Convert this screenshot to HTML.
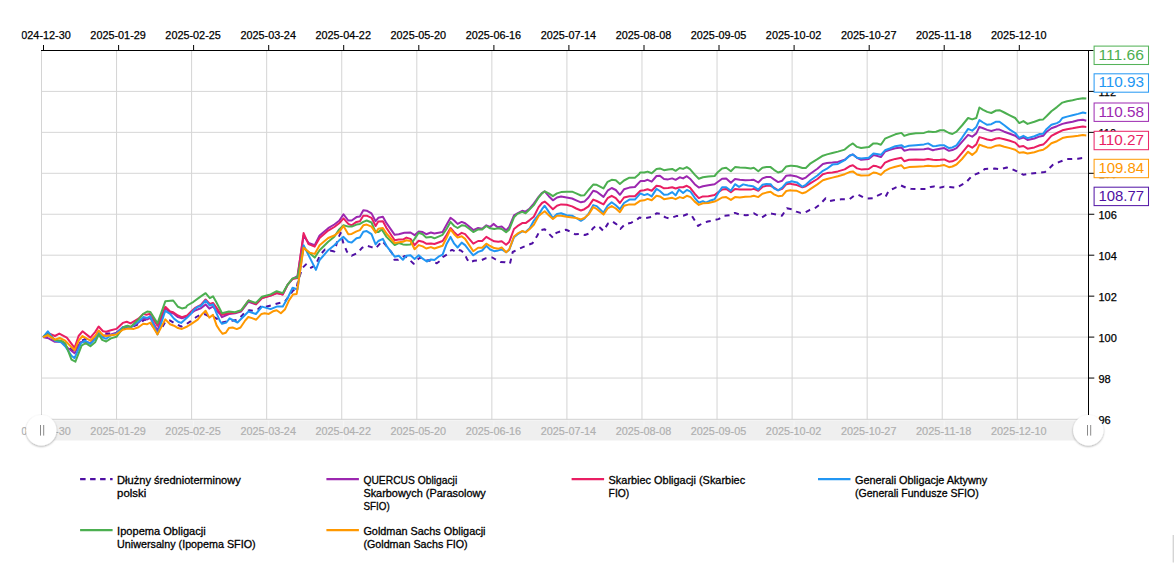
<!DOCTYPE html>
<html><head><meta charset="utf-8"><title>chart</title><style>html,body{margin:0;padding:0;background:#fff;}body{width:1174px;height:571px;overflow:hidden;position:relative;font-family:"Liberation Sans",sans-serif;}</style></head><body>
<svg width="1174" height="571" viewBox="0 0 1174 571" style="position:absolute;left:0;top:0">
<defs><clipPath id="cp"><rect x="21.5" y="0" width="1100" height="571"/></clipPath><clipPath id="plot"><rect x="41" y="50" width="1047.5" height="370"/></clipPath><filter id="sh" x="-30%" y="-30%" width="160%" height="170%"><feGaussianBlur in="SourceAlpha" stdDeviation="1.1"/><feOffset dx="0" dy="0.8"/><feComponentTransfer><feFuncA type="linear" slope="0.35"/></feComponentTransfer><feMerge><feMergeNode/><feMergeNode in="SourceGraphic"/></feMerge></filter></defs>
<g stroke="#d6d6d6" stroke-width="1"><line x1="41.50" y1="50.5" x2="41.50" y2="419.5" stroke="#d4d4d4"/><line x1="116.56" y1="50.5" x2="116.56" y2="419.5" stroke="#d4d4d4"/><line x1="191.62" y1="50.5" x2="191.62" y2="419.5" stroke="#d4d4d4"/><line x1="266.68" y1="50.5" x2="266.68" y2="419.5" stroke="#d4d4d4"/><line x1="341.74" y1="50.5" x2="341.74" y2="419.5" stroke="#d4d4d4"/><line x1="416.80" y1="50.5" x2="416.80" y2="419.5" stroke="#d4d4d4"/><line x1="491.86" y1="50.5" x2="491.86" y2="419.5" stroke="#d4d4d4"/><line x1="566.92" y1="50.5" x2="566.92" y2="419.5" stroke="#d4d4d4"/><line x1="641.98" y1="50.5" x2="641.98" y2="419.5" stroke="#d4d4d4"/><line x1="717.04" y1="50.5" x2="717.04" y2="419.5" stroke="#d4d4d4"/><line x1="792.10" y1="50.5" x2="792.10" y2="419.5" stroke="#d4d4d4"/><line x1="867.16" y1="50.5" x2="867.16" y2="419.5" stroke="#d4d4d4"/><line x1="942.22" y1="50.5" x2="942.22" y2="419.5" stroke="#d4d4d4"/><line x1="1017.28" y1="50.5" x2="1017.28" y2="419.5" stroke="#d4d4d4"/><line x1="41.5" y1="378.05" x2="1088.5" y2="378.05"/><line x1="41.5" y1="337.10" x2="1088.5" y2="337.10"/><line x1="41.5" y1="296.15" x2="1088.5" y2="296.15"/><line x1="41.5" y1="255.20" x2="1088.5" y2="255.20"/><line x1="41.5" y1="214.25" x2="1088.5" y2="214.25"/><line x1="41.5" y1="173.30" x2="1088.5" y2="173.30"/><line x1="41.5" y1="132.35" x2="1088.5" y2="132.35"/><line x1="41.5" y1="91.40" x2="1088.5" y2="91.40"/></g>
<rect x="41.5" y="420.3" width="1047" height="20.2" fill="#efefef"/><line x1="41.5" y1="419.3" x2="1088.5" y2="419.3" stroke="#d0d0d0" stroke-width="1"/>
<g stroke="#fff" stroke-opacity="0.45" stroke-width="1"><line x1="118.6" y1="420.8" x2="118.6" y2="440.5"/><line x1="193.6" y1="420.8" x2="193.6" y2="440.5"/><line x1="268.7" y1="420.8" x2="268.7" y2="440.5"/><line x1="343.7" y1="420.8" x2="343.7" y2="440.5"/><line x1="418.8" y1="420.8" x2="418.8" y2="440.5"/><line x1="493.9" y1="420.8" x2="493.9" y2="440.5"/><line x1="568.9" y1="420.8" x2="568.9" y2="440.5"/><line x1="644.0" y1="420.8" x2="644.0" y2="440.5"/><line x1="719.0" y1="420.8" x2="719.0" y2="440.5"/><line x1="794.1" y1="420.8" x2="794.1" y2="440.5"/><line x1="869.2" y1="420.8" x2="869.2" y2="440.5"/><line x1="944.2" y1="420.8" x2="944.2" y2="440.5"/><line x1="1019.3" y1="420.8" x2="1019.3" y2="440.5"/></g>
<g clip-path="url(#cp)" font-family="Liberation Sans, sans-serif" font-size="11" fill="#b0b0b0" stroke="#b0b0b0" stroke-width="0.2" text-anchor="middle"><text x="43.0" y="434.8" textLength="55.5" lengthAdjust="spacingAndGlyphs">2024-12-30</text><text x="118.1" y="434.8" textLength="55.5" lengthAdjust="spacingAndGlyphs">2025-01-29</text><text x="193.1" y="434.8" textLength="55.5" lengthAdjust="spacingAndGlyphs">2025-02-25</text><text x="268.2" y="434.8" textLength="55.5" lengthAdjust="spacingAndGlyphs">2025-03-24</text><text x="343.2" y="434.8" textLength="55.5" lengthAdjust="spacingAndGlyphs">2025-04-22</text><text x="418.3" y="434.8" textLength="55.5" lengthAdjust="spacingAndGlyphs">2025-05-20</text><text x="493.4" y="434.8" textLength="55.5" lengthAdjust="spacingAndGlyphs">2025-06-16</text><text x="568.4" y="434.8" textLength="55.5" lengthAdjust="spacingAndGlyphs">2025-07-14</text><text x="643.5" y="434.8" textLength="55.5" lengthAdjust="spacingAndGlyphs">2025-08-08</text><text x="718.5" y="434.8" textLength="55.5" lengthAdjust="spacingAndGlyphs">2025-09-05</text><text x="793.6" y="434.8" textLength="55.5" lengthAdjust="spacingAndGlyphs">2025-10-02</text><text x="868.7" y="434.8" textLength="55.5" lengthAdjust="spacingAndGlyphs">2025-10-27</text><text x="943.7" y="434.8" textLength="55.5" lengthAdjust="spacingAndGlyphs">2025-11-18</text><text x="1018.8" y="434.8" textLength="55.5" lengthAdjust="spacingAndGlyphs">2025-12-10</text></g>
<g clip-path="url(#cp)" font-family="Liberation Sans, sans-serif" font-size="11" fill="#000" stroke="#000" stroke-width="0.25" text-anchor="middle"><text x="43.0" y="38.8" textLength="55.5" lengthAdjust="spacingAndGlyphs">2024-12-30</text><text x="118.1" y="38.8" textLength="55.5" lengthAdjust="spacingAndGlyphs">2025-01-29</text><text x="193.1" y="38.8" textLength="55.5" lengthAdjust="spacingAndGlyphs">2025-02-25</text><text x="268.2" y="38.8" textLength="55.5" lengthAdjust="spacingAndGlyphs">2025-03-24</text><text x="343.2" y="38.8" textLength="55.5" lengthAdjust="spacingAndGlyphs">2025-04-22</text><text x="418.3" y="38.8" textLength="55.5" lengthAdjust="spacingAndGlyphs">2025-05-20</text><text x="493.4" y="38.8" textLength="55.5" lengthAdjust="spacingAndGlyphs">2025-06-16</text><text x="568.4" y="38.8" textLength="55.5" lengthAdjust="spacingAndGlyphs">2025-07-14</text><text x="643.5" y="38.8" textLength="55.5" lengthAdjust="spacingAndGlyphs">2025-08-08</text><text x="718.5" y="38.8" textLength="55.5" lengthAdjust="spacingAndGlyphs">2025-09-05</text><text x="793.6" y="38.8" textLength="55.5" lengthAdjust="spacingAndGlyphs">2025-10-02</text><text x="868.7" y="38.8" textLength="55.5" lengthAdjust="spacingAndGlyphs">2025-10-27</text><text x="943.7" y="38.8" textLength="55.5" lengthAdjust="spacingAndGlyphs">2025-11-18</text><text x="1018.8" y="38.8" textLength="55.5" lengthAdjust="spacingAndGlyphs">2025-12-10</text></g>
<polyline clip-path="url(#plot)" points="43.1,337.1 48.6,337.6 54.9,340.7 61.2,340.7 67.5,346.2 74.6,351.8 80.2,341.5 84.9,339.1 90.4,341.8 95.1,337.6 98.6,331.3 103.8,333.6 110.9,333.6 116.4,332.8 122.8,328.1 130.6,327.3 138.5,324.2 144.8,319.4 149.6,321.8 157.5,332.7 162.3,327.2 165.7,321.1 169.8,320.4 174.5,323.2 181.3,326.6 186.8,323.8 190.9,321.1 196.3,317.0 201.1,314.3 205.2,314.3 208.6,316.1 214.1,317.0 222.2,322.5 229.0,321.1 231.8,320.7 237.2,319.8 241.3,316.3 245.4,311.6 249.5,310.2 253.6,310.9 257.7,309.5 261.8,305.7 265.8,306.8 271.3,305.4 275.4,304.1 280.8,302.7 284.9,301.6 289.0,295.9 293.1,290.5 296.5,289.1 297.5,283.3 302.1,268.3 306.0,264.4 310.0,268.3 315.5,265.2 320.2,254.9 325.0,249.4 328.9,250.2 334.4,251.5 338.4,237.6 340.7,232.9 343.1,242.3 347.0,251.8 351.8,255.7 358.1,252.6 362.0,247.8 366.0,245.5 371.5,247.1 375.4,248.6 382.4,241.0 390.6,251.2 392.0,253.1 394.5,259.8 398.3,259.8 401.7,257.4 405.0,255.9 408.9,259.3 413.7,263.7 418.5,258.8 420.5,257.4 424.3,260.8 428.2,260.3 432.5,261.7 436.8,263.2 440.2,260.8 443.1,256.9 447.0,254.5 449.6,251.1 452.1,249.9 455.6,251.6 458.0,249.7 460.9,250.5 464.3,253.3 466.7,258.4 469.1,262.4 474.0,260.8 481.4,260.2 486.1,258.2 492.3,257.5 495.7,259.5 500.4,262.0 505.2,262.2 510.0,263.6 512.7,252.0 519.5,248.6 526.3,245.6 532.5,243.2 537.2,235.7 540.0,230.2 544.7,229.3 548.1,232.9 552.9,237.7 556.3,232.9 561.8,230.9 565.9,229.8 570.6,231.6 575.4,234.3 580.2,233.9 584.9,235.0 589.0,233.6 593.1,228.2 596.5,225.4 599.9,227.5 603.3,230.9 608.1,223.4 612.2,221.4 616.3,224.1 620.4,228.9 625.1,224.1 631.3,222.7 636.7,220.0 639.5,217.4 642.9,218.4 651.8,217.0 656.6,213.3 660.7,213.9 665.4,217.4 669.5,218.4 676.3,216.1 683.2,215.7 687.9,213.9 692.0,216.1 698.1,225.9 702.2,223.4 707.7,221.5 711.8,220.7 718.6,219.1 724.0,215.7 729.5,215.3 734.9,212.9 739.0,214.3 745.8,215.3 750.6,214.7 754.0,213.3 758.1,215.7 761.5,217.7 767.6,213.9 771.7,213.6 776.5,214.7 782.0,215.7 785.5,210.2 786.8,208.2 792.9,209.5 796.4,211.6 800.4,212.9 805.2,212.5 810.0,209.8 814.8,208.4 819.5,204.8 825.7,198.3 829.7,201.1 835.9,199.7 841.3,199.3 849.5,199.3 854.3,195.6 858.4,194.8 863.1,197.3 867.2,198.6 872.7,198.3 876.8,195.9 881.5,193.9 885.6,196.6 889.0,190.4 893.1,188.8 900.6,185.3 906.1,187.7 910.8,188.8 919.0,189.1 927.2,189.1 930.6,187.0 934.0,186.4 938.1,188.0 944.2,186.6 956.4,187.7 966.0,182.5 972.1,175.7 979.6,172.7 985.0,168.9 994.6,168.6 1000.0,169.3 1006.8,167.5 1012.3,169.3 1016.4,171.1 1023.2,174.7 1031.4,173.4 1045.0,172.0 1049.6,168.0 1052.7,165.0 1059.4,161.9 1066.8,159.1 1071.7,159.1 1077.8,158.8 1080.9,158.2 1086.4,157.6" fill="none" stroke="#4e0fa3" stroke-width="2" stroke-linejoin="round" stroke-linecap="butt" stroke-dasharray="5,5"/>
<polyline clip-path="url(#plot)" points="43.1,337.1 48.6,338.4 54.9,341.8 61.2,341.5 67.5,347.8 74.6,353.3 80.2,342.3 84.9,341.5 90.4,343.1 95.1,338.4 98.6,332.1 103.0,336.0 106.2,335.2 110.9,334.4 116.4,332.8 122.8,327.3 127.5,326.1 130.6,327.3 138.5,322.6 143.3,318.6 147.2,319.4 150.4,317.9 157.5,330.5 165.3,308.4 170.1,312.3 174.0,313.9 178.0,317.1 181.9,318.3 187.2,316.5 191.4,312.8 195.6,310.2 200.9,308.3 205.6,304.4 209.3,308.6 213.0,306.5 216.1,310.2 220.0,313.9 222.0,317.2 228.9,314.0 235.0,313.2 241.1,311.5 248.5,301.7 255.9,304.2 262.0,298.0 270.6,295.6 276.7,293.1 282.8,294.4 287.7,284.6 292.6,278.9 297.5,276.0 303.6,235.5 308.5,242.9 314.7,245.3 319.6,235.5 328.2,228.2 334.3,224.5 339.2,220.8 343.5,214.3 348.3,220.5 351.7,220.5 356.5,217.1 359.9,216.4 363.3,210.2 366.7,210.7 371.5,213.4 375.6,221.2 378.3,217.8 382.9,216.7 386.5,223.2 394.7,234.8 398.8,234.2 404.3,232.8 410.5,232.5 414.6,235.2 418.7,231.4 422.7,232.1 426.2,234.2 430.9,232.5 434.4,233.5 442.6,232.1 446.7,224.6 450.5,217.8 454.2,220.5 457.6,223.9 461.7,221.9 465.1,223.2 469.2,226.6 473.3,230.1 478.1,228.0 482.2,228.7 486.3,225.3 490.1,226.9 493.5,223.9 497.6,227.2 501.7,226.6 506.1,230.3 509.2,226.9 514.0,215.3 517.4,213.3 522.2,210.8 525.6,211.6 529.7,208.5 533.8,203.7 538.6,196.9 542.0,193.0 544.7,191.4 548.8,196.2 552.9,200.3 557.0,197.5 561.1,196.6 566.6,197.5 572.1,198.5 576.2,200.3 580.9,202.3 584.4,201.6 588.5,197.5 593.2,190.7 596.7,191.7 603.5,196.9 607.6,190.7 611.7,188.0 615.8,190.0 619.9,194.8 624.0,189.3 629.4,187.6 634.9,187.0 640.4,181.1 644.2,181.1 647.6,179.8 651.7,181.7 656.5,176.0 659.9,175.7 664.0,179.0 668.1,179.4 672.2,178.4 675.6,179.8 679.7,177.3 683.1,178.4 686.8,176.2 690.0,178.7 694.7,184.2 698.8,187.6 702.9,186.2 708.4,185.2 714.6,184.2 718.0,181.7 722.1,178.7 726.2,178.4 730.9,182.8 735.0,179.0 739.8,179.8 745.3,180.3 750.8,180.1 753.8,179.8 758.3,182.5 762.4,178.4 766.5,177.0 770.6,177.0 774.0,179.4 778.1,182.1 782.2,180.7 786.3,175.7 790.4,175.3 791.5,175.5 796.9,176.6 802.4,179.0 805.8,177.6 810.6,173.5 817.4,168.7 822.9,163.9 827.0,163.0 832.4,162.6 837.9,161.9 844.7,159.8 849.5,155.7 852.9,154.4 857.0,157.8 861.1,159.8 868.7,158.9 873.4,155.1 876.8,155.7 880.9,157.1 885.0,151.6 889.8,149.9 895.3,148.2 901.4,147.5 904.2,150.7 909.0,149.6 915.8,149.6 924.0,149.3 928.1,148.5 932.9,150.3 936.0,149.4 940.1,148.7 944.2,148.1 949.0,150.8 952.4,150.1 956.5,148.1 962.0,141.9 968.1,134.8 972.2,136.7 976.3,133.4 979.4,126.9 983.1,128.3 987.2,129.9 991.3,131.0 996.1,129.6 999.5,129.6 1004.3,131.7 1009.8,133.7 1015.2,135.8 1019.3,138.9 1023.4,137.5 1027.5,139.9 1034.4,138.5 1039.8,136.4 1043.2,135.8 1046.7,131.7 1051.4,128.3 1056.9,126.2 1062.4,123.9 1067.1,122.8 1072.6,121.7 1078.1,120.3 1082.9,119.8 1086.3,120.7" fill="none" stroke="#9c27b0" stroke-width="2" stroke-linejoin="round" stroke-linecap="butt"/>
<polyline clip-path="url(#plot)" points="43.1,337.1 47.8,332.8 54.9,336.0 59.3,333.6 66.8,337.6 74.6,347.8 78.6,336.0 82.5,331.3 90.4,337.6 95.1,332.1 98.6,326.5 103.0,331.3 106.2,331.7 110.9,330.2 116.4,328.9 122.8,322.9 126.7,321.8 130.6,323.4 138.5,318.6 143.3,313.9 146.4,314.7 149.6,313.9 157.5,325.7 165.3,306.8 170.1,311.5 173.2,312.3 178.0,315.5 181.9,317.1 187.2,315.5 191.4,311.3 195.6,307.6 200.9,305.0 205.6,299.5 209.8,303.9 213.0,302.9 216.1,307.1 220.0,312.8 222.0,314.7 228.9,313.2 235.0,312.7 241.1,310.8 248.5,300.5 255.9,304.2 262.0,298.0 270.6,295.6 276.7,293.1 282.8,294.4 287.7,284.6 292.6,278.9 297.5,277.9 303.6,233.1 308.5,244.1 314.7,246.6 319.6,238.0 328.2,230.6 334.3,227.0 339.2,223.3 343.5,218.4 348.3,223.9 351.7,225.3 356.5,221.9 359.9,221.2 363.3,215.7 366.7,215.7 371.5,217.8 375.6,226.0 378.3,221.6 382.9,221.2 386.5,228.0 394.7,240.3 398.8,239.6 402.9,239.6 406.4,237.6 410.5,238.9 414.6,245.1 418.7,240.7 422.7,241.7 426.2,243.7 430.9,243.4 434.4,244.0 442.6,241.0 446.7,234.8 450.5,228.0 454.2,232.1 457.6,235.5 461.7,232.8 465.1,234.2 469.2,238.9 473.3,243.7 478.1,241.0 482.2,241.0 486.3,236.9 490.1,239.2 494.2,241.3 498.3,241.7 501.7,241.3 506.1,244.7 509.2,241.9 514.0,229.0 517.4,226.2 522.2,223.1 525.6,223.1 529.7,220.1 533.8,216.7 538.6,207.1 542.0,203.0 544.7,201.6 548.8,205.1 552.9,209.2 557.0,205.7 561.1,204.4 566.6,204.8 572.1,206.4 576.2,208.5 580.9,210.5 584.4,209.2 588.5,206.4 593.2,199.6 596.7,201.0 603.5,204.4 607.6,198.2 611.7,195.8 615.8,198.2 619.9,203.0 624.0,197.5 629.4,196.2 634.9,196.2 640.4,190.7 644.2,190.3 647.6,189.3 651.7,190.7 656.5,185.8 659.9,186.2 664.0,188.3 668.1,188.0 672.2,187.2 675.6,188.5 679.7,187.2 683.1,187.2 686.8,185.8 690.0,187.6 694.7,193.7 698.8,198.1 702.9,196.4 708.4,196.2 714.6,195.1 718.0,192.3 722.1,189.6 726.2,188.9 730.9,192.3 735.0,188.9 739.8,189.6 745.3,189.6 750.8,189.6 753.8,188.9 758.3,190.7 762.4,186.9 766.5,185.8 770.6,185.8 774.0,187.6 778.1,190.3 782.2,188.9 786.3,184.2 790.4,183.5 791.5,184.0 796.9,185.1 802.4,187.2 805.8,186.2 810.6,183.1 817.4,179.0 822.9,174.2 827.0,173.1 832.4,172.5 837.9,171.4 844.7,169.4 849.5,166.3 852.9,165.3 857.0,168.4 861.1,169.4 868.7,169.0 873.4,165.7 876.8,166.3 880.9,168.0 885.0,162.6 889.8,160.5 895.3,158.9 901.4,157.8 904.2,161.2 909.0,159.8 915.8,159.4 924.0,159.8 928.1,158.9 932.9,159.8 936.0,159.9 940.1,159.7 944.2,159.4 949.0,161.7 952.4,161.3 956.5,159.4 962.0,152.8 968.1,145.3 972.2,147.7 976.3,144.4 979.4,137.1 983.1,138.1 987.2,139.5 991.3,140.3 996.1,138.5 999.5,138.1 1004.3,139.2 1009.8,140.8 1015.2,142.6 1019.3,146.7 1023.4,146.0 1027.5,148.7 1034.4,147.4 1039.8,145.3 1043.2,144.6 1046.7,141.2 1051.4,135.8 1056.9,133.0 1062.4,130.3 1067.1,129.2 1072.6,128.3 1078.1,127.2 1082.9,126.6 1086.3,126.9" fill="none" stroke="#e91e63" stroke-width="2" stroke-linejoin="round" stroke-linecap="butt"/>
<polyline clip-path="url(#plot)" points="43.1,337.1 47.8,331.3 54.9,340.7 61.2,342.3 65.2,346.2 71.5,355.7 74.6,358.1 81.0,343.1 84.9,340.7 90.4,343.9 95.1,339.1 98.6,331.3 103.0,337.6 106.2,338.7 110.9,335.2 116.4,333.6 122.8,327.3 127.5,326.5 130.6,327.3 138.5,321.8 143.3,317.1 147.2,317.9 150.4,316.3 157.5,334.4 165.3,310.8 170.1,313.9 174.0,318.6 178.0,321.8 181.1,322.9 187.2,317.6 191.4,313.4 193.5,310.2 197.7,306.8 200.9,306.0 205.6,300.5 209.8,305.5 213.0,304.4 216.1,312.3 220.0,321.2 222.0,323.8 226.4,322.5 229.6,318.4 237.5,322.5 248.5,311.5 255.9,314.0 262.0,306.6 270.6,309.1 276.7,306.6 282.8,306.6 287.7,298.0 292.6,287.7 297.5,289.5 303.6,245.3 309.8,257.6 315.9,269.9 319.6,260.0 328.2,250.2 334.3,245.3 339.2,240.4 343.5,236.9 348.3,241.7 351.7,242.6 356.5,238.3 359.9,237.6 363.3,231.7 366.7,231.1 371.5,234.2 375.6,244.4 378.3,241.0 382.9,238.9 386.5,245.8 394.7,256.7 398.8,255.7 402.9,259.8 406.4,255.7 410.5,255.3 414.6,259.0 418.7,255.3 422.7,258.7 426.8,261.5 430.9,259.4 434.4,260.1 438.5,256.7 442.6,254.6 446.7,243.7 450.5,236.9 454.2,243.7 457.6,247.5 461.7,242.6 465.1,245.1 469.2,250.5 473.3,255.3 478.1,251.9 482.2,250.5 486.3,245.8 490.1,249.5 494.2,251.2 498.3,250.4 501.7,249.5 506.1,252.2 509.2,249.9 514.0,237.2 517.4,234.4 522.2,231.3 525.6,232.1 529.7,228.3 533.8,220.8 538.6,214.6 542.0,209.2 544.7,205.7 548.8,211.9 552.9,218.0 557.0,213.9 561.1,213.3 566.6,215.3 572.1,215.7 576.2,218.0 580.9,220.8 584.4,218.7 588.5,213.9 593.2,205.1 596.7,206.1 603.5,212.6 607.6,205.7 611.7,202.3 615.8,205.3 619.9,209.2 624.0,203.0 629.4,199.6 634.9,199.6 640.4,193.4 644.2,195.1 647.6,194.0 651.7,196.4 656.5,188.9 659.9,191.0 664.0,194.8 668.1,194.4 672.2,192.1 675.6,195.4 679.0,189.6 683.1,193.0 686.8,189.9 690.6,191.7 694.7,197.8 698.8,202.6 702.9,201.2 705.7,202.6 709.8,200.8 714.6,199.2 718.0,193.4 722.1,187.2 726.2,187.2 730.9,190.7 735.0,184.2 739.1,186.9 743.2,184.4 748.0,185.5 752.8,186.2 758.3,189.6 762.4,184.8 766.5,183.9 770.6,184.2 774.0,188.3 778.1,190.3 782.2,187.6 786.3,182.8 790.4,181.7 791.5,181.3 796.9,182.4 802.4,186.7 805.8,184.8 810.6,180.3 817.4,175.5 822.9,170.8 827.0,168.7 832.4,164.6 837.9,163.9 844.7,160.2 849.5,155.7 852.9,154.4 857.0,157.8 861.1,158.5 868.7,157.8 873.4,153.4 876.8,154.0 880.9,154.8 885.0,150.3 889.8,148.5 895.3,146.2 901.4,145.2 904.2,147.1 909.0,145.8 915.8,145.2 924.0,144.4 928.1,143.4 932.9,146.2 936.0,146.0 940.1,145.3 944.2,145.3 949.0,148.1 952.4,147.4 956.5,145.3 962.0,137.8 968.1,128.9 972.2,130.7 976.3,126.9 979.4,120.1 983.1,122.5 987.2,124.8 991.3,124.2 996.1,121.7 999.5,121.7 1004.3,125.2 1009.8,129.6 1015.2,133.0 1019.3,137.8 1023.4,135.8 1027.5,138.1 1034.4,136.2 1039.8,134.0 1043.2,133.7 1046.7,128.9 1051.4,124.8 1056.9,123.1 1059.6,121.7 1062.4,118.0 1067.1,116.6 1072.6,115.3 1078.1,113.9 1082.9,112.5 1086.3,113.2" fill="none" stroke="#2196f3" stroke-width="2" stroke-linejoin="round" stroke-linecap="butt"/>
<polyline clip-path="url(#plot)" points="43.1,337.1 47.8,334.4 54.9,339.9 61.2,340.7 65.2,343.1 71.5,359.7 75.4,361.7 81.7,345.5 85.7,343.1 90.4,346.2 95.1,342.3 98.8,334.4 102.2,339.9 106.2,341.5 110.9,338.4 116.4,336.8 123.5,327.3 127.5,325.7 130.6,327.0 138.5,319.4 143.3,313.9 147.2,311.5 150.4,312.0 157.5,323.4 165.3,301.3 173.2,300.5 178.0,306.8 181.9,308.4 185.8,307.6 187.2,305.5 193.5,301.8 199.8,297.1 205.6,293.2 209.8,298.1 213.0,296.3 216.1,301.8 220.0,309.2 222.0,313.2 228.9,311.5 235.0,312.3 241.1,310.3 248.5,300.5 255.9,302.9 262.0,296.8 270.6,294.4 276.7,291.2 282.8,293.1 287.7,284.6 292.6,278.4 297.5,277.2 303.6,247.8 314.7,257.6 319.6,250.2 328.2,241.7 334.3,236.8 339.2,229.4 343.5,225.3 348.3,226.6 351.7,226.6 356.5,224.6 359.9,223.9 363.3,221.9 366.7,220.5 371.5,222.5 375.6,232.1 378.3,232.1 381.8,229.4 386.5,236.9 394.7,245.1 398.8,243.0 402.9,244.4 406.4,244.8 410.5,244.4 414.6,238.9 418.7,232.8 422.7,234.2 426.2,237.6 430.9,236.9 434.4,238.3 442.6,234.8 446.7,228.7 450.5,221.9 454.2,226.0 457.6,228.0 461.7,225.3 465.1,225.7 469.2,228.7 473.3,232.1 478.1,229.4 482.2,229.4 486.3,226.0 490.1,228.3 494.2,229.0 498.3,228.3 501.7,229.0 506.1,232.1 509.2,229.6 514.0,217.3 517.4,213.9 522.2,211.9 525.6,213.3 529.7,209.2 533.8,205.1 538.6,197.5 542.0,193.4 544.7,191.4 548.8,193.4 552.9,196.2 557.0,193.4 561.1,192.1 566.6,191.7 572.1,191.7 576.2,193.4 580.9,195.5 584.4,195.2 588.5,190.0 593.2,184.6 596.7,184.8 603.5,188.4 607.6,181.8 611.7,179.8 615.8,180.2 619.9,183.9 624.0,180.5 629.4,177.7 634.9,177.7 639.0,174.3 640.1,172.5 644.2,172.5 647.6,171.6 651.7,173.2 656.5,169.1 659.9,168.4 664.0,170.2 668.1,169.4 672.2,168.9 675.6,170.8 679.7,168.0 683.1,168.9 686.8,167.1 690.0,169.1 694.7,174.6 698.8,178.7 702.9,177.3 708.4,176.6 714.6,176.0 718.0,171.9 722.1,168.4 726.2,167.8 730.9,171.2 735.0,167.1 739.8,167.5 745.3,167.8 750.8,168.4 753.8,167.8 758.3,171.2 762.4,167.8 766.5,167.1 770.6,167.1 774.0,169.8 778.1,172.5 782.2,171.2 786.3,166.4 790.4,165.7 791.5,165.7 796.9,166.3 802.4,168.0 805.8,168.0 810.6,163.3 817.4,159.2 822.9,155.7 827.0,154.4 832.4,153.0 837.9,151.6 844.7,149.6 849.5,145.5 852.9,143.4 857.0,146.9 861.1,148.0 868.7,147.1 873.4,143.4 876.8,143.4 880.9,144.8 885.0,138.7 889.8,136.6 895.3,134.3 901.4,132.9 904.2,135.9 909.0,134.3 915.8,133.2 924.0,132.9 928.1,131.6 932.9,132.1 936.0,131.7 940.1,130.3 944.2,130.3 949.0,133.0 952.4,134.0 956.5,131.7 962.0,125.5 968.1,118.0 972.2,119.4 976.3,118.0 979.4,107.5 983.1,109.8 987.2,111.9 991.3,113.0 996.1,110.5 999.5,110.2 1004.3,112.5 1009.8,115.3 1015.2,118.0 1019.3,123.1 1023.4,121.1 1027.5,123.9 1034.4,121.7 1039.8,119.8 1043.2,119.4 1046.7,116.0 1051.4,111.2 1056.9,107.1 1062.4,102.6 1067.1,101.2 1072.6,100.2 1078.1,98.9 1082.9,98.2 1086.3,98.5" fill="none" stroke="#4caf50" stroke-width="2" stroke-linejoin="round" stroke-linecap="butt"/>
<polyline clip-path="url(#plot)" points="43.1,337.1 47.8,335.2 54.9,339.6 59.7,338.0 65.2,340.7 74.6,350.2 78.6,340.7 82.5,336.0 90.4,340.7 95.1,336.0 98.6,330.5 103.0,335.2 106.2,336.0 110.9,335.2 116.4,334.4 122.8,329.7 127.5,328.6 133.8,328.9 138.5,327.3 143.3,323.8 147.2,324.2 150.4,322.6 157.5,334.4 165.3,319.4 170.1,324.2 174.0,325.7 178.0,328.1 181.9,328.9 187.2,326.5 191.4,323.9 197.7,319.7 201.9,314.4 205.6,310.7 209.3,317.6 213.0,314.9 216.6,325.4 220.0,330.7 222.6,333.8 225.8,332.8 228.9,328.1 232.6,327.5 236.8,329.1 240.5,327.5 244.7,321.2 248.3,317.0 252.0,318.1 256.2,319.7 261.5,313.9 264.6,313.2 268.8,313.9 273.0,311.3 276.7,310.2 280.9,313.2 285.1,309.2 288.8,300.8 293.0,294.5 296.7,293.9 303.6,247.8 309.8,252.7 314.7,253.9 319.6,245.3 328.2,238.0 334.3,235.5 339.2,231.9 343.5,226.0 348.3,234.2 351.7,233.9 356.5,231.4 359.9,230.1 363.3,225.3 366.7,224.6 371.5,226.6 375.6,232.8 378.3,228.7 382.9,228.0 386.5,233.5 394.7,243.0 398.8,242.3 402.9,241.7 406.4,240.3 410.5,241.0 414.6,249.2 418.7,245.1 422.7,246.4 426.2,248.5 430.9,247.1 434.4,248.5 442.6,245.8 446.7,237.6 450.5,229.4 454.2,234.2 457.6,237.6 461.7,236.2 465.1,238.9 469.2,245.1 473.3,251.2 478.1,247.8 482.2,247.8 486.3,243.7 490.1,246.0 494.2,248.1 498.3,248.8 501.7,247.4 506.1,252.2 509.2,249.5 514.0,236.5 517.4,233.7 522.2,231.0 525.6,232.4 529.7,229.0 533.8,224.9 538.6,216.0 542.0,213.3 544.7,211.2 548.8,215.3 552.9,219.0 557.0,215.7 561.1,215.7 566.6,216.7 572.1,217.6 576.2,218.0 580.9,219.4 584.4,218.0 588.5,214.6 593.2,207.1 596.7,208.9 603.5,214.6 607.6,208.5 611.7,206.1 615.8,208.5 619.9,212.2 624.0,205.7 629.4,204.4 634.9,204.4 640.4,200.7 644.2,200.3 647.6,198.9 651.7,200.3 656.5,195.8 659.9,196.4 664.0,199.2 668.1,198.5 672.2,197.8 675.6,199.2 679.7,197.1 683.1,198.1 686.8,195.8 690.6,197.1 694.7,201.6 698.8,204.9 702.9,203.3 708.4,203.0 714.6,201.6 718.0,199.9 722.1,197.5 726.2,197.1 730.9,199.9 735.0,197.1 739.8,197.5 745.3,196.7 750.8,196.4 753.8,195.8 758.3,197.1 762.4,193.7 766.5,192.6 770.6,191.7 774.0,194.4 778.1,196.2 782.2,195.8 786.3,191.0 790.4,190.3 791.5,190.6 796.9,190.8 802.4,193.3 805.8,192.2 810.6,188.9 817.4,184.4 822.9,180.3 827.0,179.0 832.4,177.6 837.9,176.2 844.7,174.2 849.5,172.1 852.9,171.4 857.0,174.5 861.1,175.5 868.7,175.3 873.4,172.5 876.8,173.1 880.9,174.9 885.0,170.8 889.8,168.4 895.3,166.7 901.4,165.3 904.2,168.4 909.0,167.1 915.8,166.7 924.0,166.3 928.1,165.7 932.9,166.3 936.0,166.2 940.1,165.8 944.2,165.1 949.0,167.2 952.4,166.5 956.5,164.5 962.0,159.0 968.1,151.7 972.2,154.9 976.3,151.5 979.4,144.6 983.1,146.0 987.2,147.4 991.3,147.7 996.1,145.7 999.5,145.3 1004.3,146.7 1009.8,148.1 1015.2,149.8 1019.3,152.8 1023.4,152.2 1027.5,153.5 1034.4,152.2 1039.8,150.4 1043.2,149.8 1046.7,147.4 1051.4,143.3 1056.9,141.2 1062.4,138.1 1067.1,137.1 1072.6,136.4 1078.1,135.8 1082.9,135.1 1086.3,135.4" fill="none" stroke="#ff9800" stroke-width="2" stroke-linejoin="round" stroke-linecap="butt"/>
<g stroke="#000" stroke-width="1"><line x1="41" y1="50.5" x2="1093.5" y2="50.5"/><line x1="43.5" y1="45" x2="43.5" y2="50.5"/><line x1="118.6" y1="45" x2="118.6" y2="50.5"/><line x1="193.6" y1="45" x2="193.6" y2="50.5"/><line x1="268.7" y1="45" x2="268.7" y2="50.5"/><line x1="343.7" y1="45" x2="343.7" y2="50.5"/><line x1="418.8" y1="45" x2="418.8" y2="50.5"/><line x1="493.9" y1="45" x2="493.9" y2="50.5"/><line x1="568.9" y1="45" x2="568.9" y2="50.5"/><line x1="644.0" y1="45" x2="644.0" y2="50.5"/><line x1="719.0" y1="45" x2="719.0" y2="50.5"/><line x1="794.1" y1="45" x2="794.1" y2="50.5"/><line x1="869.2" y1="45" x2="869.2" y2="50.5"/><line x1="944.2" y1="45" x2="944.2" y2="50.5"/><line x1="1019.3" y1="45" x2="1019.3" y2="50.5"/><line x1="1088.5" y1="50" x2="1088.5" y2="420"/><line x1="1088.5" y1="419.0" x2="1094.3" y2="419.0"/><line x1="1088.5" y1="378.05" x2="1094.3" y2="378.05"/><line x1="1088.5" y1="337.1" x2="1094.3" y2="337.1"/><line x1="1088.5" y1="296.15" x2="1094.3" y2="296.15"/><line x1="1088.5" y1="255.2" x2="1094.3" y2="255.2"/><line x1="1088.5" y1="214.25" x2="1094.3" y2="214.25"/><line x1="1088.5" y1="173.3" x2="1094.3" y2="173.3"/><line x1="1088.5" y1="132.35" x2="1094.3" y2="132.35"/><line x1="1088.5" y1="91.4" x2="1094.3" y2="91.4"/></g>
<g font-family="Liberation Sans, sans-serif" font-size="11" fill="#000" stroke="#000" stroke-width="0.25"><text x="1098.5" y="423.6">96</text><text x="1098.5" y="382.7">98</text><text x="1098.5" y="341.7">100</text><text x="1098.5" y="300.8">102</text><text x="1098.5" y="259.8">104</text><text x="1098.5" y="218.8">106</text><text x="1098.5" y="177.9">108</text><text x="1098.5" y="137.0">110</text><text x="1098.5" y="96.0">112</text></g>
<rect x="1094.1" y="46.1" width="54.4" height="18.4" fill="#fff" stroke="#4caf50" stroke-opacity="0.95" stroke-width="1.05"/>
<text x="1098.4" y="59.7" textLength="45.6" lengthAdjust="spacingAndGlyphs" font-family="Liberation Sans, sans-serif" font-size="15.5" fill="#4caf50">111.66</text>
<rect x="1094.1" y="73.8" width="54.4" height="18.4" fill="#fff" stroke="#2196f3" stroke-opacity="0.95" stroke-width="1.05"/>
<text x="1098.4" y="87.4" textLength="45.6" lengthAdjust="spacingAndGlyphs" font-family="Liberation Sans, sans-serif" font-size="15.5" fill="#2196f3">110.93</text>
<rect x="1094.1" y="103.0" width="54.4" height="18.4" fill="#fff" stroke="#9c27b0" stroke-opacity="0.95" stroke-width="1.05"/>
<text x="1098.4" y="116.6" textLength="45.6" lengthAdjust="spacingAndGlyphs" font-family="Liberation Sans, sans-serif" font-size="15.5" fill="#9c27b0">110.58</text>
<rect x="1094.1" y="131.3" width="54.4" height="18.4" fill="#fff" stroke="#e91e63" stroke-opacity="0.95" stroke-width="1.05"/>
<text x="1098.4" y="144.9" textLength="45.6" lengthAdjust="spacingAndGlyphs" font-family="Liberation Sans, sans-serif" font-size="15.5" fill="#e91e63">110.27</text>
<rect x="1094.1" y="159.3" width="54.4" height="18.4" fill="#fff" stroke="#ff9800" stroke-opacity="0.95" stroke-width="1.05"/>
<text x="1098.4" y="172.9" textLength="45.6" lengthAdjust="spacingAndGlyphs" font-family="Liberation Sans, sans-serif" font-size="15.5" fill="#ff9800">109.84</text>
<rect x="1094.1" y="187.2" width="54.4" height="18.4" fill="#fff" stroke="#4e0fa3" stroke-opacity="0.95" stroke-width="1.05"/>
<text x="1098.4" y="200.8" textLength="45.6" lengthAdjust="spacingAndGlyphs" font-family="Liberation Sans, sans-serif" font-size="15.5" fill="#4e0fa3">108.77</text>
<circle cx="41.3" cy="430.2" r="15.2" fill="#fff" filter="url(#sh)"/>
<g stroke="#8a8a8a" stroke-width="1"><line x1="40.5" y1="425" x2="40.5" y2="435.6"/><line x1="43.699999999999996" y1="425" x2="43.699999999999996" y2="435.6"/></g>
<circle cx="1088.3" cy="430.2" r="15.2" fill="#fff" filter="url(#sh)"/>
<g stroke="#8a8a8a" stroke-width="1"><line x1="1087.5" y1="425" x2="1087.5" y2="435.6"/><line x1="1090.7" y1="425" x2="1090.7" y2="435.6"/></g>
<line x1="80.1" y1="479.2" x2="112.6" y2="479.2" stroke="#4e0fa3" stroke-width="2.3" stroke-dasharray="5.5,4.5"/>
<text x="117.1" y="483.9" textLength="123.7" lengthAdjust="spacingAndGlyphs" font-family="Liberation Sans, sans-serif" font-size="11" fill="#000" stroke="#000" stroke-width="0.3">Dłużny średnioterminowy</text>
<text x="117.1" y="496.9" textLength="29.1" lengthAdjust="spacingAndGlyphs" font-family="Liberation Sans, sans-serif" font-size="11" fill="#000" stroke="#000" stroke-width="0.3">polski</text>
<line x1="326.4" y1="479.2" x2="358.9" y2="479.2" stroke="#9c27b0" stroke-width="2.3"/>
<text x="363.4" y="483.9" textLength="93.8" lengthAdjust="spacingAndGlyphs" font-family="Liberation Sans, sans-serif" font-size="11" fill="#000" stroke="#000" stroke-width="0.3">QUERCUS Obligacji</text>
<text x="363.4" y="496.9" textLength="122.4" lengthAdjust="spacingAndGlyphs" font-family="Liberation Sans, sans-serif" font-size="11" fill="#000" stroke="#000" stroke-width="0.3">Skarbowych (Parasolowy</text>
<text x="363.4" y="510.0" textLength="26.3" lengthAdjust="spacingAndGlyphs" font-family="Liberation Sans, sans-serif" font-size="11" fill="#000" stroke="#000" stroke-width="0.3">SFIO)</text>
<line x1="571.6" y1="479.2" x2="604.1" y2="479.2" stroke="#e91e63" stroke-width="2.3"/>
<text x="608.6" y="483.9" textLength="136.5" lengthAdjust="spacingAndGlyphs" font-family="Liberation Sans, sans-serif" font-size="11" fill="#000" stroke="#000" stroke-width="0.3">Skarbiec Obligacji (Skarbiec</text>
<text x="608.6" y="496.9" textLength="20.6" lengthAdjust="spacingAndGlyphs" font-family="Liberation Sans, sans-serif" font-size="11" fill="#000" stroke="#000" stroke-width="0.3">FIO)</text>
<line x1="818.0" y1="479.2" x2="850.5" y2="479.2" stroke="#2196f3" stroke-width="2.3"/>
<text x="855.0" y="483.9" textLength="132.3" lengthAdjust="spacingAndGlyphs" font-family="Liberation Sans, sans-serif" font-size="11" fill="#000" stroke="#000" stroke-width="0.3">Generali Obligacje Aktywny</text>
<text x="855.0" y="496.9" textLength="123.7" lengthAdjust="spacingAndGlyphs" font-family="Liberation Sans, sans-serif" font-size="11" fill="#000" stroke="#000" stroke-width="0.3">(Generali Fundusze SFIO)</text>
<line x1="80.1" y1="530.1" x2="112.6" y2="530.1" stroke="#4caf50" stroke-width="2.3"/>
<text x="117.1" y="534.8" textLength="88.6" lengthAdjust="spacingAndGlyphs" font-family="Liberation Sans, sans-serif" font-size="11" fill="#000" stroke="#000" stroke-width="0.3">Ipopema Obligacji</text>
<text x="117.1" y="547.9" textLength="138.5" lengthAdjust="spacingAndGlyphs" font-family="Liberation Sans, sans-serif" font-size="11" fill="#000" stroke="#000" stroke-width="0.3">Uniwersalny (Ipopema SFIO)</text>
<line x1="326.4" y1="530.1" x2="358.9" y2="530.1" stroke="#ff9800" stroke-width="2.3"/>
<text x="363.4" y="534.8" textLength="122.1" lengthAdjust="spacingAndGlyphs" font-family="Liberation Sans, sans-serif" font-size="11" fill="#000" stroke="#000" stroke-width="0.3">Goldman Sachs Obligacji</text>
<text x="363.4" y="547.9" textLength="104.3" lengthAdjust="spacingAndGlyphs" font-family="Liberation Sans, sans-serif" font-size="11" fill="#000" stroke="#000" stroke-width="0.3">(Goldman Sachs FIO)</text>
<rect x="1172.6" y="535" width="2" height="27.5" fill="#d0d0d0" opacity="0.9"/>
</svg>
</body></html>
